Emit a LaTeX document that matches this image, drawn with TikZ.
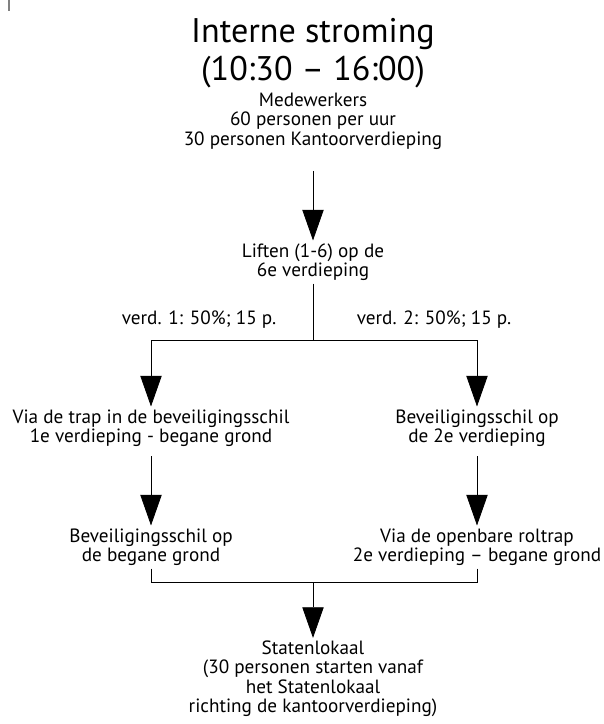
\documentclass[tikz,border=0pt]{standalone}
\usepackage{fontspec}
\setmainfont{PT Sans}
\usetikzlibrary{arrows.meta}

\tikzset{
  stap/.style={align=center, inner sep=2pt, font=\fontsize{14.4}{14.6}\selectfont},
  kop/.style={align=center, inner sep=0pt, font=\fontsize{25.6}{28.5}\selectfont},
  flow/.style={line width=0.6pt, -{Triangle[length=23pt,width=16pt]}},
  lijn/.style={line width=0.6pt}
}

\begin{document}
\begin{tikzpicture}[x=0.75pt, y=-0.75pt]
\useasboundingbox (0,0) rectangle (603,724);
\draw[gray, line width=0.8pt] (9,0) -- (9,11);

\node[kop] (titel) at (313,53) {Interne stroming\\(10:30 -- 16:00)};
\node[stap] (mw) at (313,121) {Medewerkers\\60 personen per uur\\30 personen Kantoorverdieping};
\node[stap] (lift) at (313,262) {Liften (1-6) op de\\6e verdieping};
\coordinate (split) at (313,340);
\node[stap] (v1) at (199,320) {verd. 1: 50\%; 15 p.};
\node[stap] (v2) at (434,320) {verd. 2: 50\%; 15 p.};
\node[stap] (trap) at (151,428) {Via de trap in de beveiligingsschil\\1e verdieping - begane grond};
\node[stap] (schil2) at (477,428) {Beveiligingsschil op\\de 2e verdieping};
\node[stap] (schil0) at (151,547) {Beveiligingsschil op\\de begane grond};
\node[stap] (rol) at (477,547) {Via de openbare roltrap\\2e verdieping -- begane grond};
\coordinate (samen) at (313,582);
\node[stap] (staten) at (313,679) {Statenlokaal\\(30 personen starten vanaf\\het Statenlokaal\\richting de kantoorverdieping)};

\draw[flow, shorten <=14pt] (mw) -- (lift);
\draw[lijn] (lift) -- (split);
\draw[flow] (split) -| (trap);
\draw[flow] (split) -| (schil2);
\draw[flow, shorten <=5pt] (trap) -- (schil0);
\draw[flow, shorten <=5pt] (schil2) -- (rol);
\draw[lijn] (schil0) |- (samen);
\draw[lijn] (rol) |- (samen);
\draw[flow] (samen) -- (staten);
\end{tikzpicture}
\end{document}
